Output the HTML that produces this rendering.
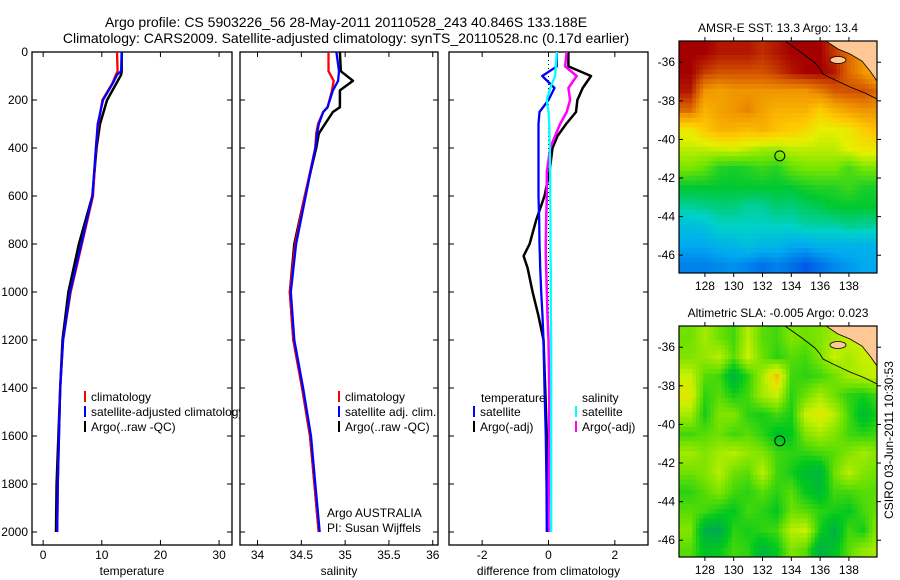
<!DOCTYPE html>
<html><head><meta charset="utf-8"><style>
body{margin:0;background:#fff;}
svg{display:block;font-family:"Liberation Sans",sans-serif;font-size:12px;}
</style></head><body>
<svg id="fig" width="900" height="580" viewBox="0 0 900 580" xmlns="http://www.w3.org/2000/svg">
<defs>
<clipPath id="c1"><rect x="32" y="52" width="208" height="493"/></clipPath>
<clipPath id="cm1"><rect x="679" y="41" width="198" height="232"/></clipPath>
<clipPath id="cm2"><rect x="679" y="326" width="198" height="231"/></clipPath>
</defs>
<text x="346" y="27" text-anchor="middle" font-size="14">Argo profile: CS 5903226_56 28-May-2011 20110528_243 40.846S 133.188E</text>
<text x="346" y="43" text-anchor="middle" font-size="14">Climatology: CARS2009. Satellite-adjusted climatology: synTS_20110528.nc (0.17d earlier)</text>
<g id="plots"></g>
</svg>
<script>
// ---- profile data ----
const tDepth=[0,80,95,130,200,300,400,600,800,1000,1200,1400,1600,1800,2000];
const tClim=[12.6,12.7,12.4,11.8,10.1,9.4,9.0,8.5,6.6,4.7,3.4,2.9,2.7,2.5,2.4];
const tSat=[13.4,13.3,12.6,11.9,10.2,9.3,9.0,8.4,6.5,4.6,3.4,2.9,2.7,2.5,2.4];
const tArgo=[13.4,13.4,13.3,12.5,10.9,9.7,9.1,8.4,6.1,4.3,3.3,2.9,2.6,2.3,2.2];
const sDepth=[0,80,120,160,230,250,300,340,400,600,800,1000,1200,1400,1600,1800,2000];
const sClim=[34.81,34.81,34.87,34.85,34.80,34.75,34.69,34.67,34.66,34.54,34.43,34.37,34.41,34.51,34.60,34.65,34.70];
const sSat=[34.90,34.93,34.92,34.86,34.80,34.75,34.70,34.68,34.66,34.55,34.44,34.38,34.42,34.52,34.61,34.66,34.71];
const sArgo=[34.94,34.95,35.09,34.94,34.94,34.86,34.77,34.70,34.67,34.54,34.42,34.37,34.41,34.51,34.60,34.65,34.70];
const dDepth=[0,60,100,150,200,250,300,350,400,500,600,700,800,850,900,1000,1100,1200,1400,1600,1800,2000];
const dTempArgo=[0.6,0.6,1.28,1.03,0.87,0.83,0.53,0.27,0.12,0.03,-0.12,-0.37,-0.57,-0.75,-0.63,-0.48,-0.3,-0.15,-0.1,-0.05,-0.03,0];
const dTempSat=[0.25,0.25,-0.19,0.18,0.0,-0.27,-0.3,-0.3,-0.3,-0.3,-0.3,-0.28,-0.27,-0.26,-0.25,-0.22,-0.18,-0.15,-0.12,-0.08,-0.06,-0.05];
const dSalSat=[0.25,0.22,0.2,0.05,-0.05,0.0,0.02,0.03,0.04,0.05,0.05,0.06,0.06,0.06,0.07,0.07,0.07,0.08,0.08,0.08,0.08,0.08];
const dSalArgo=[0.55,0.5,0.85,0.6,0.65,0.55,0.35,0.2,0.05,-0.05,-0.05,-0.07,-0.08,-0.08,-0.07,-0.05,-0.03,0,0.02,0.02,0.01,0];
const depthTicks=[0,200,400,600,800,1000,1200,1400,1600,1800,2000];
const tTicks=[0,10,20,30];
const sTicks=[34,34.5,35,35.5,36];
const sTickLabels=["34","34.5","35","35.5","36"];
const dTicks=[-2,0,2];
// ---- map data (rows lat -35.5..-46.5, cols lon 127..140) ----
const mapLats=[-35.5,-36.5,-37.5,-38.5,-39.5,-40.5,-41.5,-42.5,-43.5,-44.5,-45.5,-46.5];
const mapLons=[127,128,129,130,131,132,133,134,135,136,137,138,139,140];
const sst=[
[17,17,16.8,16.8,16.8,16.6,16.8,17,17,17,16.5,16,15.5,15],
[17,16.5,16.3,16.3,16.3,16.3,16.5,16.8,17,17,16.8,16,15.5,15],
[16.8,15.5,15.3,15.5,15.5,15.5,15.5,15.5,15.5,15.8,16.2,16.3,16.3,16],
[16,15,15.3,15.5,15.7,15.3,15,15,15,14.5,15,15.3,15.5,15.5],
[14,14.6,15,15,14.8,15,14.7,14.5,14.3,13.8,13.8,14,14.5,14.8],
[13.5,13.5,13.6,13.7,13.5,13.3,13.3,13.5,13.5,13.5,13.5,13.8,14,14],
[13,12.8,12.3,12.2,12.3,12.5,12.3,12.8,13,13,13,12.6,13,13],
[12,12,12,12,12,12,12,12,12.2,12.3,12.3,12.5,12.2,12.2],
[11.3,11.4,11.5,11.5,11.3,11.3,11.6,11.5,11.7,11.8,12,12,12,12],
[10.5,10.6,11,11,11,11,11,11,11.2,11.2,11.2,11.4,11.3,11.3],
[10,10,10.2,10.3,10.5,10.3,10.3,10,10,10.2,10.2,10.2,10.2,10.2],
[9.5,9.5,9.6,9.7,9.5,9.3,9.5,9.3,9,9.3,9.6,9.8,10,10]];
const sla=[
[.5,.8,.5,.3,.9,.4,.3,.6,.5,.6,.8,1,1,1],
[.6,.7,.9,.4,1,.5,.2,.4,.3,.6,1,.8,1,1],
[1,.4,.3,-.3,.2,.8,1.5,.3,.2,.3,.5,.8,.9,1],
[1.2,.2,.4,.1,.3,.8,1,.2,.5,.8,.5,.2,.1,.3],
[.8,.1,.6,.6,.2,.1,.3,.1,1,1.2,.9,.3,-.2,.1],
[.3,.4,.5,.3,.4,.2,-.1,0,.6,.8,.6,.3,.2,.3],
[.8,.6,.8,.9,.7,.6,.3,.2,.2,.3,.4,.6,.8,.6],
[.5,.6,.9,.5,.4,.9,.3,.1,-.2,-.3,.5,.9,.6,.5],
[.2,.4,.6,.3,.2,.4,.2,.4,0,-.2,.3,.3,.4,.4],
[.4,.3,.1,0,.3,.2,0,.5,.4,.2,.1,0,.3,.5],
[.6,-.4,-.5,.2,.1,.2,.3,.9,1,.1,-.4,.3,.1,.7],
[.4,-.1,0,.3,.2,-.3,0,.6,.4,-.4,-.1,.4,.7,.8]];
const latTicks=[-36,-38,-40,-42,-44,-46];
const lonTicks=[128,130,132,134,136,138];
const argoLon=133.2, argoLat=-40.85;

const NS='http://www.w3.org/2000/svg';
const root=document.getElementById('plots');
function mk(tag,attrs,parent){const e=document.createElementNS(NS,tag);for(const k in attrs)e.setAttribute(k,attrs[k]);(parent||root).appendChild(e);return e;}
function txt(x,y,s,anchor,parent){const t=mk('text',{x:x,y:y,'text-anchor':anchor||'start'},parent);t.textContent=s;return t;}

const yTop=52,yBot=545;
const yD=d=>52+d*0.24;
function panel(name,x0,x1,xmin,xmax,xticks,xlabels,xtitle,showY){
  const g=mk('g',{});
  
  
  const sx=v=>x0+(v-xmin)/(xmax-xmin)*(x1-x0);
  const r=mk('rect',{x:x0,y:yTop,width:x1-x0,height:yBot-yTop,fill:'none',stroke:'#000','stroke-width':1.3},g);
  
  
  depthTicks.forEach(d=>{
    const y=yD(d);
    mk('line',{x1:x0,x2:x0+5,y1:y,y2:y,stroke:'#000'},g);
    mk('line',{x1:x1-5,x2:x1,y1:y,y2:y,stroke:'#000'},g);
    if(showY){const t=txt(x0-4,y+4,String(d),'end',g);
      
      }
  });
  xticks.forEach((v,i)=>{
    const x=sx(v);
    mk('line',{x1:x,x2:x,y1:yTop,y2:yTop+5,stroke:'#000'},g);
    mk('line',{x1:x,x2:x,y1:yBot-5,y2:yBot,stroke:'#000'},g);
    const t=txt(x,559,xlabels[i],'middle',g);
    
    
  });
  const tt=txt((x0+x1)/2,575,xtitle,'middle',g);
  
  
  return {g,sx};
}
function line(p,depths,vals,color,w,name){
  const pts=depths.map((d,i)=>p.sx(vals[i]).toFixed(1)+','+yD(d).toFixed(1)).join(' ');
  const l=mk('polyline',{points:pts,fill:'none',stroke:color,'stroke-width':w,'stroke-linejoin':'round'},p.g);
  
  
}
function legend(g,x,y,color,label,name){
  mk('rect',{x:x,y:y-7,width:2,height:11,fill:color},g);
  const t=txt(x+7,y+3,label,'start',g);
  
  
}

// Panel 1 temperature
const p1=panel('temperature-panel',32,232,-1.9,32.2,tTicks,tTicks.map(String),'temperature',true);
line(p1,tDepth,tArgo,'#000',2.5,'temperature-argo-line');
line(p1,tDepth,tClim,'#f00',2.3,'temperature-climatology-line');
line(p1,tDepth,tSat,'#00f',2.3,'temperature-satellite-line');
const lg1=mk('g',{'clip-path':'url(#c1)'},p1.g);


legend(lg1,84,398,'#f00','climatology','legend-climatology');
legend(lg1,84,413,'#00f','satellite-adjusted climatology','legend-satellite-adjusted');
legend(lg1,84,428,'#000','Argo(..raw -QC)','legend-argo');

// Panel 2 salinity
const p2=panel('salinity-panel',240,438,33.8,36.06,sTicks,sTickLabels,'salinity',false);
line(p2,sDepth,sArgo,'#000',2.5,'salinity-argo-line');
line(p2,sDepth,sClim,'#f00',2.3,'salinity-climatology-line');
line(p2,sDepth,sSat,'#00f',2.3,'salinity-satellite-line');
legend(p2.g,338,398,'#f00','climatology','legend-climatology');
legend(p2.g,338,413,'#00f','satellite adj. clim.','legend-satellite-adj');
legend(p2.g,338,428,'#000','Argo(..raw -QC)','legend-argo');
{const a=txt(327,517,'Argo AUSTRALIA','start',p2.g);
 const b=txt(327,532,'PI: Susan Wijffels','start',p2.g);}

// Panel 3 differences
const p3=panel('difference-panel',449,648,-3,3,dTicks,dTicks.map(String),'difference from climatology',false);
{const z=mk('line',{x1:p3.sx(0),x2:p3.sx(0),y1:yTop,y2:yD(2000),stroke:'#000','stroke-dasharray':'1,3'},p3.g);
 }
line(p3,dDepth,dTempArgo,'#000',2.5,'diff-temperature-argo-line');
line(p3,dDepth,dSalArgo,'#f0f',2.5,'diff-salinity-argo-line');
line(p3,dDepth,dTempSat,'#00f',2.3,'diff-temperature-satellite-line');
line(p3,dDepth,dSalSat,'#0ff',2.3,'diff-salinity-satellite-line');
{const a=txt(481,402,'temperature','start',p3.g);
 const b=txt(582,402,'salinity','start',p3.g);}
legend(p3.g,473,413,'#00f','satellite','legend-temp-satellite');
legend(p3.g,473,428,'#000','Argo(-adj)','legend-temp-argo');
legend(p3.g,575,413,'#0ff','satellite','legend-sal-satellite');
legend(p3.g,575,428,'#f0f','Argo(-adj)','legend-sal-argo');

// ---- maps ----
function rgb(c){return 'rgb('+c.map(Math.round).join(',')+')';}
function lerpColor(stops,v){
  if(v<=stops[0][0])return rgb(stops[0][1]);
  for(let i=1;i<stops.length;i++){if(v<=stops[i][0]){const [a,ca]=stops[i-1],[b,cb]=stops[i];const t=(v-a)/(b-a);
    return rgb(ca.map((c,k)=>c+(cb[k]-c)*t));}}
  return rgb(stops[stops.length-1][1]);
}
function sample(grid,lat,lon){
  let fi=(-35.5-lat), fj=(lon-127);
  fi=Math.max(0,Math.min(grid.length-1,fi)); fj=Math.max(0,Math.min(grid[0].length-1,fj));
  const i0=Math.floor(fi),j0=Math.floor(fj),i1=Math.min(i0+1,grid.length-1),j1=Math.min(j0+1,grid[0].length-1);
  const a=fi-i0,b=fj-j0;
  return grid[i0][j0]*(1-a)*(1-b)+grid[i0][j1]*(1-a)*b+grid[i1][j0]*a*(1-b)+grid[i1][j1]*a*b;
}
const sstStops=[[9,[0,90,230]],[10,[0,170,240]],[11,[0,210,200]],[12,[0,200,50]],[13,[120,230,0]],[13.8,[230,240,0]],[14.6,[255,200,0]],[15.5,[240,150,0]],[16.3,[210,80,0]],[17,[165,0,0]]];
const slaStops=[[-0.5,[0,170,80]],[0,[0,200,30]],[0.5,[110,225,0]],[1,[200,240,0]],[1.3,[235,225,0]],[1.6,[245,170,20]]];
function mapPanel(name,top,title,grid,stops,clip){
  const g=mk('g',{});
  
  
  const L=679,R=877,H=(name==='sst-map')?232:231;
  const sx=lon=>L+(lon-126.2)*14.4;
  const sy=lat=>top+(-34.9-lat)*19.3;
  const cg=mk('g',{'clip-path':'url(#'+clip+')'},g);
  const step=0.25;
  for(let lat=-34.75;lat>=-47.1;lat-=step){
    for(let lon=126.25;lon<=140;lon+=step){
      const v=sample(grid,lat,lon);
      const c=mk('rect',{x:(sx(lon-step/2)).toFixed(2),y:(sy(lat+step/2)).toFixed(2),width:(14.4*step+0.4).toFixed(2),height:(19.3*step+0.4).toFixed(2),fill:lerpColor(stops,v)},cg);
      
      
    }
  }
  // land
  const land=mk('path',{d:`M826 ${top} L877 ${top} L877 ${top+40} L870 ${top+30} L862 ${top+20} L850 ${top+13} L838 ${top+8} Z`,fill:'#fdc896',stroke:'#000','stroke-width':0.8},cg);
  
  const isl=mk('ellipse',{cx:838,cy:top+19,rx:8,ry:3.5,fill:'#fdc896',stroke:'#000','stroke-width':0.8},cg);
  
  const coast=mk('polyline',{points:`785,${top} 802,${top+12} 815,${top+22} 820,${top+28} 823,${top+33} 835,${top+39} 850,${top+46} 865,${top+52} 877,${top+58}`,fill:'none',stroke:'#000','stroke-width':0.9},cg);
  
  const fr=mk('rect',{x:L,y:top,width:R-L,height:H,fill:'none',stroke:'#000','stroke-width':1.2},g);
  
  latTicks.forEach(lat=>{const y=sy(lat);
    mk('line',{x1:L,x2:L+4,y1:y,y2:y,stroke:'#000'},g);mk('line',{x1:R,x2:R+4,y1:y,y2:y,stroke:'#000'},g);
    const t=txt(L-4,y+4,String(lat),'end',g);});
  lonTicks.forEach(lon=>{const x=sx(lon);
    mk('line',{x1:x,x2:x,y1:top,y2:top-4,stroke:'#000'},g);mk('line',{x1:x,x2:x,y1:top+H,y2:top+H+4,stroke:'#000'},g);
    const t=txt(x,top+H+17,String(lon),'middle',g);});
  const ar=mk('circle',{cx:sx(argoLon),cy:sy(argoLat),r:5,fill:'none',stroke:'#000','stroke-width':1},g);
  
  const tt=txt((L+R)/2,top-9,title,'middle',g);
}
mapPanel('sst-map',41,'AMSR-E SST: 13.3 Argo: 13.4',sst,sstStops,'cm1');
mapPanel('sla-map',326,'Altimetric SLA: -0.005 Argo: 0.023',sla,slaStops,'cm2');
{const t=txt(0,0,'CSIRO 03-Jun-2011 10:30:53','middle');t.setAttribute('transform','translate(893,440) rotate(-90)');
 }
</script>
</body></html>
